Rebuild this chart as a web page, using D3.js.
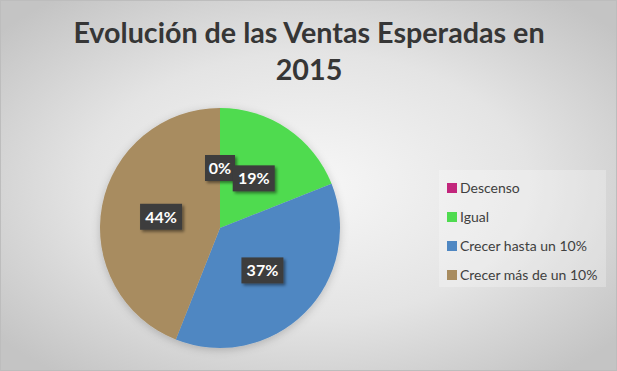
<!DOCTYPE html>
<html><head><meta charset="utf-8">
<script src="https://cdn.jsdelivr.net/npm/d3@7"></script>
<style>body{margin:0;overflow:hidden}svg{display:block}</style>
</head><body>
<script>
const categories = ["Descenso", "Igual", "Crecer hasta un 10%", "Crecer más de un 10%"];
const values = [0, 19, 37, 44];
const labels = ["0%", "19%", "37%", "44%"];
const colors = ["#C2267C", "#4FDB50", "#4F87C2", "#A88C60"];
const titleLines = ["Evolución de las Ventas Esperadas en", "2015"];

const W = 617, H = 371;
const svg = d3.select("body").append("svg").attr("width", W).attr("height", H);
const defs = svg.append("defs");
const rg = defs.append("radialGradient").attr("id", "bg").attr("cx", "50%").attr("cy", "50%").attr("r", "65%");
rg.append("stop").attr("offset", "0%").attr("stop-color", "#f7f7f7");
rg.append("stop").attr("offset", "55%").attr("stop-color", "#e4e4e4");
rg.append("stop").attr("offset", "100%").attr("stop-color", "#c4c4c4");
const f = defs.append("filter").attr("id", "sh").attr("x", "-30%").attr("y", "-30%").attr("width", "170%").attr("height", "170%");
f.append("feDropShadow").attr("dx", 2).attr("dy", 2).attr("stdDeviation", 1.5).attr("flood-color", "#000").attr("flood-opacity", 0.45);
const f2 = defs.append("filter").attr("id", "psh").attr("x", "-20%").attr("y", "-20%").attr("width", "140%").attr("height", "140%");
f2.append("feDropShadow").attr("dx", 0).attr("dy", 2).attr("stdDeviation", 4).attr("flood-color", "#000").attr("flood-opacity", 0.2);

svg.append("rect").attr("width", W).attr("height", H).attr("fill", "url(#bg)");
svg.append("rect").attr("x", 0.5).attr("y", 0.5).attr("width", W - 1).attr("height", H - 1)
  .attr("fill", "none").attr("stroke", "#bdbdbd");

svg.append("g").selectAll("text").data(titleLines).join("text")
  .attr("x", 309).attr("y", (d, i) => 43 + i * 37)
  .attr("text-anchor", "middle")
  .attr("font-family", "Lato, 'Open Sans', sans-serif").attr("font-weight", "bold")
  .attr("font-size", 28.7).attr("fill", "#363636")
  .text(d => d);

const cx = 220, cy = 228, R = 120;
const pie = d3.pie().sort(null).value(d => d)(values);
const arc = d3.arc().innerRadius(0).outerRadius(R);
const lab = d3.arc().innerRadius(60).outerRadius(60);
const g = svg.append("g").attr("transform", `translate(${cx},${cy})`);
g.append("g").attr("filter", "url(#psh)").selectAll("path").data(pie).join("path")
  .attr("d", arc).attr("fill", (d, i) => colors[i]);

const lg = g.append("g").selectAll("g").data(pie).join("g")
  .attr("transform", d => `translate(${lab.centroid(d)})`);
lg.append("rect").attr("y", -13).attr("height", 26)
  .attr("fill", "#3d3d3d").attr("filter", "url(#sh)")
  .attr("width", (d, i) => labels[i].length > 2 ? 42 : 30)
  .attr("x", (d, i) => labels[i].length > 2 ? -21 : -15);
lg.append("text").attr("text-anchor", "middle").attr("dy", "0.36em")
  .attr("font-family", "Lato, 'Open Sans', sans-serif").attr("font-weight", "bold")
  .attr("font-size", 16).attr("fill", "#fff")
  .text((d, i) => labels[i]);

const leg = svg.append("g");
leg.append("rect").attr("x", 439).attr("y", 170).attr("width", 167).attr("height", 117)
  .attr("fill", "#ffffff").attr("fill-opacity", 0.25);
const items = leg.selectAll("g").data(categories).join("g")
  .attr("transform", (d, i) => `translate(447,${183 + i * 29})`);
items.append("rect").attr("width", 10).attr("height", 10).attr("fill", (d, i) => colors[i]);
items.append("text").attr("x", 13).attr("y", 10)
  .attr("font-family", "Lato, 'Open Sans', sans-serif").attr("font-size", 14).attr("fill", "#404040")
  .text(d => d);
</script>
</body></html>
